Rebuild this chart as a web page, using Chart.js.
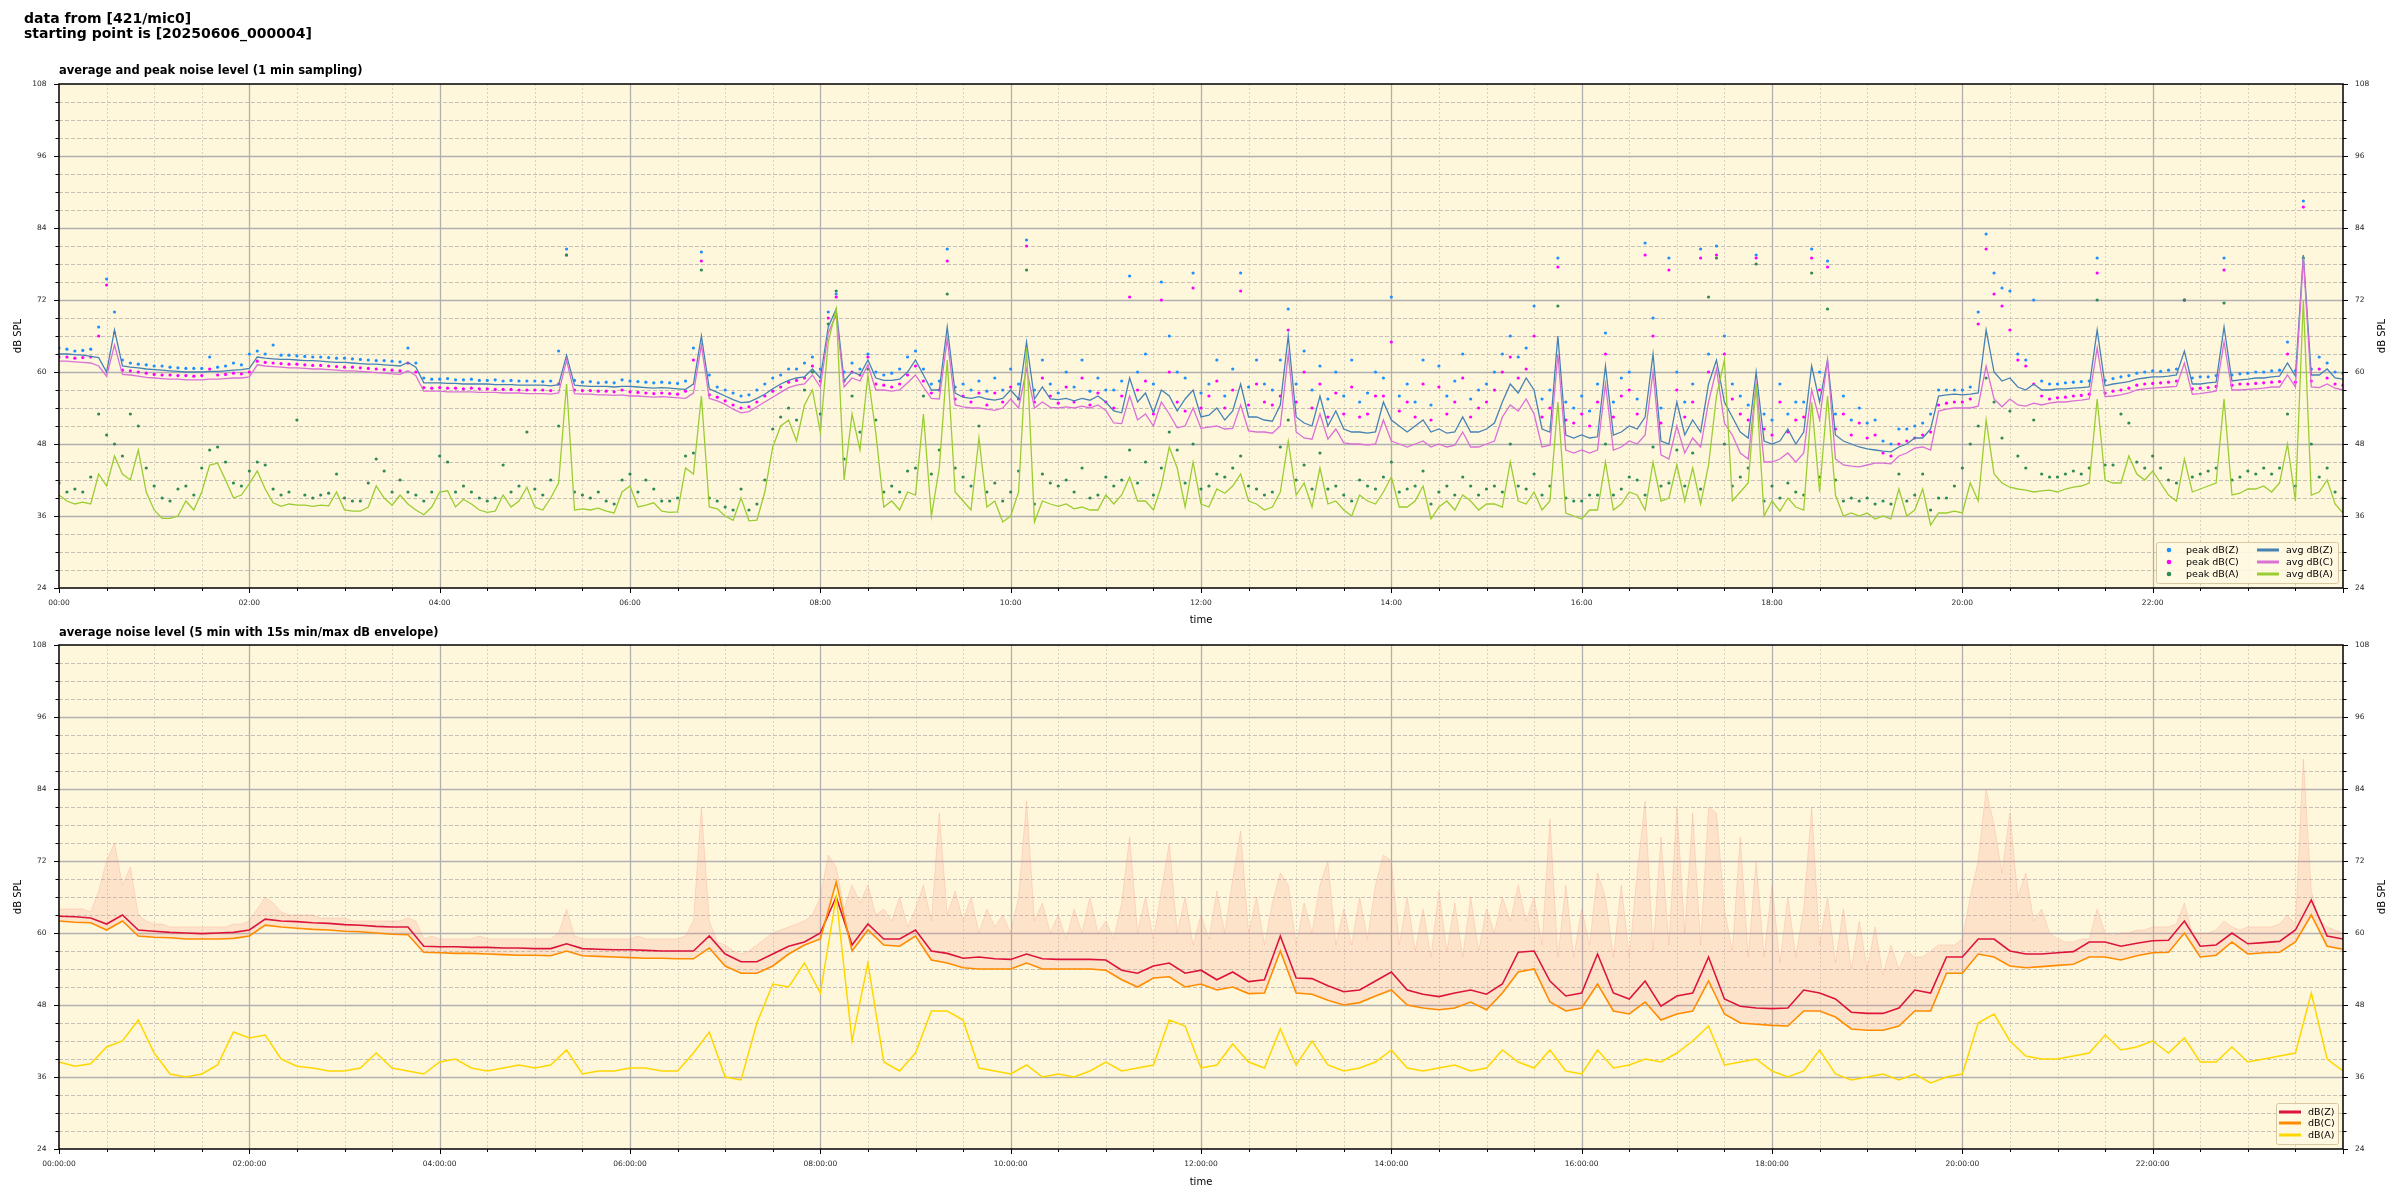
<!DOCTYPE html>
<html>
<head>
<meta charset="utf-8">
<script src="https://cdn.jsdelivr.net/npm/chart.js@4.4.0/dist/chart.umd.min.js"></script>
<style>
  body { margin: 0; background: #fff; width: 2400px; height: 1200px; position: relative; overflow: hidden; font-family: "DejaVu Sans", sans-serif; }
  canvas { position: absolute; left: 0; }
  .t { position: absolute; font-weight: bold; color: #000; white-space: nowrap; z-index: 2; }
</style>
</head>
<body>
<canvas id="c1" width="2400" height="632" style="top:0"></canvas>
<canvas id="c2" width="2400" height="600" style="top:600px"></canvas>
<div class="t" style="left:24px;top:11px;font-size:14px;line-height:15px">data from [421/mic0]<br>starting point is [20250606_000004]</div>
<div class="t" style="left:59px;top:63px;font-size:11.5px;line-height:14px">average and peak noise level (1 min sampling)</div>
<div class="t" style="left:59px;top:625px;font-size:11.5px;line-height:14px">average noise level (5 min with 15s min/max dB envelope)</div>
<script>
// === top panel: one value every 5 minutes, 00:00 .. 24:00 ===
const STEP = 5;
const avgZ = [
  63.0, 63.0, 62.9, 62.8, 62.6, 62.4, 60.0, 67.0, 61.0, 60.8, 60.7, 60.5,
  60.4, 60.3, 60.2, 60.1, 60.0, 60.0, 60.0, 60.1, 60.1, 60.2, 60.3, 60.4,
  60.6, 62.5, 62.3, 62.2, 62.1, 62.1, 62.0, 61.9, 61.9, 61.8, 61.7, 61.6,
  61.6, 61.5, 61.4, 61.3, 61.3, 61.2, 61.1, 61.0, 61.6, 60.8, 58.2, 58.2,
  58.2, 58.1, 58.1, 58.0, 58.0, 58.0, 58.0, 57.9, 57.9, 57.9, 57.8, 57.8,
  57.8, 57.8, 57.7, 57.9, 62.8, 57.8, 57.7, 57.6, 57.6, 57.6, 57.5, 57.6,
  57.6, 57.5, 57.4, 57.3, 57.4, 57.3, 57.2, 57.1, 58.0, 66.0, 57.2, 56.6,
  56.0, 55.4, 54.9, 55.0, 55.6, 56.3, 57.2, 58.0, 58.6, 59.0, 59.2, 60.5,
  59.0, 67.5, 70.5, 58.5, 60.0, 59.5, 62.0, 59.0, 58.6, 58.6, 58.8, 60.0,
  62.0, 59.5, 57.0, 57.0, 67.5, 56.5, 55.8, 55.6, 55.9, 55.5, 55.3, 55.6,
  57.0, 55.5, 65.0, 55.5, 57.5, 55.5, 55.4, 55.6, 55.2, 55.6, 55.3, 56.0,
  55.0, 53.5, 53.2, 59.0, 55.0, 56.5, 53.2, 57.0, 56.0, 53.5, 55.5, 57.0,
  52.5, 52.8, 54.0, 52.0, 53.5, 58.0, 52.5, 52.5, 52.0, 51.8, 54.5, 66.0,
  52.5, 51.5, 51.0, 56.0, 51.0, 53.5, 50.5, 50.0, 50.0, 49.8, 50.0, 55.0,
  52.0, 51.0, 50.0, 51.0, 52.0, 50.0, 50.5, 49.8, 50.0, 52.5, 50.0, 50.0,
  50.5, 51.5, 55.0, 58.0, 56.5, 59.0, 57.0, 50.5, 50.0, 66.0, 49.5, 49.0,
  49.5, 49.0, 49.2, 61.0, 49.5, 50.0, 51.0, 50.5, 52.5, 63.0, 48.5, 48.0,
  55.0, 49.5, 52.0, 50.0, 58.0, 62.0, 55.0, 52.5, 50.0, 49.0, 60.0, 48.5,
  48.0, 48.5, 50.5, 48.0, 50.0, 61.0, 55.0, 62.0, 49.5, 48.5, 48.0, 47.5,
  47.2, 47.0, 46.8, 46.7, 47.5, 48.0, 49.0, 49.0, 50.5, 56.0, 56.2, 56.3,
  56.2, 56.3, 56.5, 67.0, 60.0, 58.5, 59.0, 57.5, 57.0, 58.0, 57.0, 57.0,
  57.2, 57.2, 57.3, 57.4, 57.5, 67.0, 57.7, 58.0, 58.2, 58.4, 58.8, 59.0,
  59.2, 59.2, 59.3, 59.5, 63.5, 58.0, 58.0, 58.2, 58.3, 67.5, 58.5, 58.7,
  58.8, 59.0, 59.0, 59.2, 59.3, 61.5, 59.3, 79.5, 59.5, 59.5, 60.5, 59.0,
  58.8
];
const avgC = [
  61.8, 61.8, 61.7, 61.6, 61.5, 61.0, 59.3, 64.5, 59.6, 59.5, 59.3, 59.1,
  59.0, 58.9, 58.8, 58.8, 58.7, 58.7, 58.7, 58.8, 58.8, 58.9, 59.0, 59.0,
  59.2, 61.2, 61.0, 60.9, 60.8, 60.7, 60.7, 60.6, 60.5, 60.5, 60.4, 60.3,
  60.2, 60.2, 60.1, 60.0, 59.9, 59.8, 59.7, 59.6, 60.2, 59.4, 56.8, 56.8,
  56.8, 56.7, 56.7, 56.7, 56.7, 56.6, 56.6, 56.6, 56.5, 56.5, 56.5, 56.4,
  56.4, 56.4, 56.3, 56.5, 62.0, 56.4, 56.3, 56.3, 56.2, 56.2, 56.1, 56.2,
  56.0, 56.0, 55.9, 55.8, 55.9, 55.8, 55.7, 55.6, 56.5, 64.5, 55.6, 55.2,
  54.6, 53.8, 53.2, 53.4, 54.2, 55.0, 55.8, 56.6, 57.4, 57.8, 58.0, 59.5,
  57.5, 66.5, 69.5, 57.5, 59.0, 58.5, 61.2, 57.0, 57.0, 56.8, 57.0, 58.2,
  59.5, 57.5, 55.6, 55.5, 65.5, 54.5, 54.2, 54.0, 54.0, 53.8, 53.6, 54.0,
  55.5, 54.0, 60.5, 54.0, 55.0, 54.1, 54.0, 54.2, 54.0, 54.3, 54.0, 54.5,
  53.6, 51.5, 51.4, 56.0, 52.0, 53.0, 51.0, 55.0, 53.0, 50.7, 51.0, 54.0,
  50.6, 50.8, 51.0, 50.5, 50.6, 54.5, 50.2, 50.0, 50.0, 49.8, 51.0, 63.0,
  50.0, 49.0, 48.8, 53.0, 48.8, 50.5, 48.2, 48.0, 48.0, 47.8, 48.0, 52.0,
  48.5, 48.0, 47.5, 48.0, 48.5, 47.5, 48.0, 47.5, 47.8, 50.0, 47.5, 47.5,
  48.0, 48.5, 52.5, 54.5, 53.5, 55.5, 53.0, 47.5, 47.8, 63.0, 47.0, 46.5,
  47.0, 46.5, 47.0, 58.0, 47.0, 47.5, 48.5, 48.0, 49.5, 60.0, 46.2, 45.5,
  51.0, 46.5, 49.0, 47.5, 55.0, 60.5, 51.5, 49.5, 46.5, 45.5, 58.0, 45.0,
  45.0, 45.5, 46.5, 45.0, 46.5, 57.0, 52.0, 62.0, 45.5, 44.5, 44.3, 44.2,
  44.5, 44.8, 44.8, 44.7, 46.0, 46.5, 47.3, 47.5, 47.0, 53.5, 53.8, 54.0,
  54.0, 54.0, 54.3, 61.0, 55.5, 54.2, 55.5, 54.5, 54.3, 54.8, 54.5, 54.8,
  55.0, 55.0, 55.2, 55.3, 55.5, 64.0, 55.9, 56.0, 56.2, 56.5, 57.0, 57.2,
  57.3, 57.4, 57.5, 57.6, 61.5, 56.3, 56.4, 56.6, 56.8, 65.0, 57.0, 57.0,
  57.1, 57.2, 57.3, 57.5, 57.5, 59.5, 57.5, 79.0, 57.5, 57.4, 58.0, 57.3,
  57.0
];
const avgA = [
  39.5, 38.5, 38.0, 38.3, 38.0, 43.0, 41.0, 46.0, 43.0, 42.0, 47.0, 40.0,
  37.0, 35.6, 35.6, 36.0, 38.5, 37.0, 40.0, 44.5, 44.8, 42.0, 39.0, 39.5,
  41.4, 43.5, 40.5, 38.2, 37.6, 38.0, 37.8, 37.8, 37.6, 37.8, 37.7, 40.0,
  37.0, 36.8, 36.8, 37.5, 41.0, 39.0, 37.8, 39.5, 38.0, 37.0, 36.2, 37.5,
  40.0, 40.2, 37.5, 38.8, 38.0, 37.0, 36.6, 36.8, 39.5, 37.5, 38.5, 40.8,
  37.5, 37.0, 39.0, 41.5, 58.0, 37.0, 37.2, 37.0, 37.3, 36.8, 36.5, 40.0,
  41.0, 37.5, 37.8, 38.2, 36.8, 36.6, 36.7, 44.0, 43.0, 56.0, 37.5, 37.2,
  36.0, 35.3, 39.0, 35.2, 35.3, 40.0, 47.5, 51.0, 52.0, 48.5, 54.5, 57.0,
  50.0, 65.0, 70.5, 42.0, 53.0, 47.0, 59.5, 49.8, 37.5, 38.5, 37.0, 40.0,
  39.5, 53.0, 36.0, 44.0, 62.0, 40.0, 38.5, 37.0, 49.0, 37.5, 38.5, 35.0,
  36.0, 40.0, 64.0, 35.0, 38.5, 38.0, 37.6, 38.0, 37.2, 37.5, 37.0, 37.0,
  39.5, 38.0, 39.5, 42.5, 38.5, 38.5, 37.0, 41.0, 47.5, 44.0, 37.5, 45.0,
  38.0, 37.5, 40.5, 39.8, 41.0, 43.0, 38.5, 38.0, 37.0, 37.5, 40.0, 48.5,
  39.5, 41.5, 37.5, 44.0, 38.0, 38.5, 37.0, 36.0, 39.5, 38.5, 38.0, 40.0,
  42.5, 37.5, 37.5, 38.5, 41.0, 35.5, 37.5, 38.5, 37.0, 39.5, 38.5, 37.0,
  38.0, 38.0, 37.5, 45.0, 38.5, 38.0, 40.0, 37.0, 38.5, 55.0, 36.5, 36.0,
  35.5, 37.0, 37.0, 45.0, 37.0, 38.0, 40.0, 39.5, 37.0, 45.0, 38.5, 39.0,
  44.5, 38.5, 44.0, 38.0, 44.5, 56.0, 62.0, 38.5, 40.0, 41.5, 58.0, 36.0,
  38.5, 36.8, 39.0, 37.5, 37.0, 55.0, 40.0, 56.0, 39.5, 36.0, 36.5, 36.0,
  36.5, 35.5, 36.0, 35.5, 40.5, 36.0, 37.0, 40.5, 34.5, 36.5, 36.5, 36.8,
  36.5, 41.5, 38.5, 52.0, 43.0, 41.5, 40.8, 40.5, 40.3, 40.0, 40.2, 40.3,
  40.0, 40.5, 40.8, 41.0, 41.5, 55.5, 42.0, 41.5, 41.5, 46.0, 43.0, 42.0,
  43.5, 41.5, 39.5, 38.5, 45.5, 40.0, 40.5, 41.0, 41.5, 55.5, 39.5, 39.8,
  40.5, 40.5, 41.0, 40.0, 41.5, 48.0, 38.5, 72.0, 39.5, 40.0, 42.0, 38.0,
  36.5
];
const peakZ = [
  64.0, 63.8, 63.5, 63.6, 63.8, 67.5, 75.5, 70.0, 62.0, 61.5, 61.3, 61.2,
  61.0, 61.0, 60.8, 60.7, 60.6, 60.6, 60.6, 62.5, 60.8, 61.0, 61.5, 61.2,
  63.0, 63.5, 63.0, 64.5, 62.8, 62.8, 62.7, 62.6, 62.5, 62.5, 62.4, 62.3,
  62.3, 62.2, 62.1, 62.0, 61.9, 61.9, 61.8, 61.7, 64.0, 61.5, 59.0, 58.8,
  58.8, 58.9, 58.7, 58.7, 58.8, 58.6, 58.6, 58.7, 58.5, 58.6, 58.5, 58.5,
  58.5, 58.4, 58.5, 63.5, 80.5, 58.6, 58.3, 58.4, 58.2, 58.3, 58.2, 58.7,
  58.5, 58.4, 58.3, 58.2, 58.3, 58.2, 58.1, 58.5, 64.0, 80.0, 59.5, 57.5,
  57.0, 56.5, 56.0, 56.2, 57.0, 58.0, 59.0, 59.5, 60.5, 60.5, 61.5, 62.5,
  60.5, 70.0, 73.0, 60.0, 61.5, 60.5, 63.0, 60.0, 59.5, 59.8, 60.5, 62.5,
  63.5, 60.5, 58.0, 58.5, 80.5, 57.5, 58.0, 57.0, 58.5, 56.8, 59.0, 57.0,
  60.5, 58.0, 82.0, 57.0, 62.0, 58.0, 56.5, 60.0, 57.5, 62.0, 56.8, 59.0,
  57.0, 57.0, 58.5, 76.0, 60.0, 63.0, 58.0, 75.0, 66.0, 60.0, 59.0, 76.5,
  56.5, 58.0, 62.0, 56.0, 60.5, 76.5, 57.5, 62.0, 58.0, 57.0, 62.0, 70.5,
  58.0, 63.5, 57.0, 61.0, 55.5, 60.0, 56.0, 62.0, 55.0, 56.5, 60.0, 59.0,
  72.5, 56.0, 58.0, 55.0, 62.0, 54.5, 61.0, 56.0, 58.5, 63.0, 55.5, 57.0,
  58.0, 60.0, 63.0, 66.0, 62.5, 64.0, 71.0, 55.5, 57.0, 79.0, 55.0, 54.0,
  56.0, 53.5, 58.0, 66.5, 55.0, 59.0, 60.0, 55.5, 81.5, 69.0, 54.0, 79.0,
  60.0, 55.0, 58.0, 80.5, 63.0, 81.0, 66.0, 58.0, 56.0, 54.5, 79.5, 53.0,
  52.0, 58.0, 53.0, 55.0, 55.0, 80.5, 60.0, 78.5, 53.0, 56.0, 52.0, 54.0,
  51.5, 52.0, 48.5, 48.0, 50.5, 50.5, 51.0, 51.5, 53.0, 57.0, 57.0, 57.0,
  57.0, 57.5, 70.0, 83.0, 76.5, 74.0, 73.5, 63.0, 62.0, 72.0, 58.5, 58.0,
  58.0, 58.2, 58.3, 58.4, 58.5, 79.0, 58.6, 58.9, 59.2, 59.4, 59.8, 60.0,
  60.2, 60.1, 60.3, 60.5, 72.0, 59.0, 59.2, 59.2, 59.4, 79.0, 59.5, 59.7,
  59.8, 60.0, 60.0, 60.2, 60.3, 65.0, 60.2, 88.5, 60.5, 62.5, 61.5, 60.0,
  59.8
];
const peakC = [
  62.5, 62.5, 62.3, 62.4, 62.5, 66.0, 74.5, 66.5, 60.3, 60.2, 60.0, 59.8,
  59.6, 59.5, 59.5, 59.4, 59.4, 59.3, 59.4, 60.5, 59.5, 59.6, 59.8, 59.7,
  60.0, 61.8, 61.6, 61.5, 61.4, 61.3, 61.3, 61.2, 61.1, 61.1, 61.0, 60.9,
  60.8, 60.8, 60.7, 60.6, 60.5, 60.4, 60.3, 60.2, 61.5, 60.0, 57.4, 57.3,
  57.4, 57.3, 57.3, 57.2, 57.3, 57.2, 57.2, 57.1, 57.1, 57.1, 57.0, 57.0,
  57.0, 57.0, 56.9, 58.0, 79.5, 57.0, 56.9, 56.9, 56.8, 56.8, 56.7, 57.0,
  56.7, 56.6, 56.5, 56.4, 56.5, 56.4, 56.3, 56.8, 62.0, 78.5, 56.2, 55.8,
  55.2, 54.5, 54.0, 54.2, 55.0, 56.0, 56.8, 57.5, 58.3, 58.6, 59.0, 61.0,
  58.5, 69.0, 72.5, 58.5, 60.0, 59.5, 62.5, 58.0, 57.8, 57.5, 58.0, 59.5,
  61.0, 58.5, 56.5, 57.0, 78.5, 55.5, 56.0, 55.0, 56.5, 54.5, 56.5, 55.0,
  57.5, 55.5, 81.0, 55.0, 59.0, 56.0, 54.8, 57.5, 55.0, 59.0, 54.5, 56.5,
  55.0, 54.0, 56.0, 72.5, 57.0, 58.5, 53.0, 72.0, 60.0, 55.0, 53.5, 74.0,
  54.0, 56.0, 58.5, 54.0, 57.0, 73.5, 54.5, 58.0, 55.0, 54.5, 56.0, 67.0,
  55.0, 60.0, 54.0, 58.0, 52.5, 56.5, 53.0, 57.5, 52.5, 53.0, 56.0, 56.0,
  65.0, 53.5, 55.0, 52.5, 58.0, 52.0, 57.5, 53.0, 55.0, 59.0, 52.5, 54.0,
  55.0, 57.0, 60.0, 62.5, 59.0, 60.5, 66.0, 52.5, 54.0, 77.5, 52.0, 51.5,
  53.0, 51.0, 55.0, 63.0, 52.5, 56.0, 57.0, 53.0, 79.5, 66.0, 51.5, 77.0,
  57.0, 52.5, 55.0, 79.0, 60.0, 79.5, 63.0, 55.5, 53.0, 52.0, 79.0, 50.5,
  49.5, 55.0, 50.0, 52.0, 52.5, 79.0, 57.0, 77.5, 50.5, 53.0, 49.5, 51.5,
  49.0, 49.5, 46.5, 46.0, 48.0, 48.5, 49.0, 49.5, 50.0, 54.5, 54.8, 55.0,
  55.0, 55.5, 68.0, 80.5, 73.0, 71.0, 67.0, 62.0, 61.0, 58.0, 56.0, 55.5,
  55.7, 55.8, 56.0, 56.1, 56.3, 76.5, 56.5, 56.8, 57.0, 57.3, 57.8, 58.0,
  58.1, 58.2, 58.3, 58.5, 72.0, 57.2, 57.3, 57.4, 57.6, 77.0, 57.8, 58.0,
  58.0, 58.1, 58.2, 58.3, 58.4, 63.0, 58.3, 87.5, 58.5, 60.5, 59.0, 58.0,
  57.8
];
const peakA = [
  41.5, 40.0, 40.5, 40.0, 42.5, 53.0, 49.5, 48.0, 46.0, 53.0, 51.0, 44.0,
  41.0, 39.0, 38.5, 40.5, 41.0, 39.5, 44.0, 47.0, 47.5, 45.0, 41.5, 41.0,
  43.5, 45.0, 44.5, 40.5, 39.5, 40.0, 52.0, 39.5, 39.0, 39.5, 39.8, 43.0,
  39.0, 38.5, 38.5, 41.5, 45.5, 43.5, 40.0, 42.0, 40.0, 39.5, 38.5, 40.0,
  46.0, 45.0, 40.0, 41.0, 40.0, 39.0, 38.5, 39.0, 44.5, 40.0, 41.0, 50.0,
  40.5, 39.5, 42.0, 51.0, 79.5, 40.0, 39.5, 39.0, 40.0, 38.5, 38.0, 42.0,
  43.0, 40.0, 42.0, 40.5, 38.5, 38.5, 39.0, 46.0, 46.5, 77.0, 39.0, 38.5,
  37.5, 37.0, 40.5, 37.0, 38.0, 42.0, 50.5, 52.5, 54.0, 52.0, 57.0, 60.0,
  53.0, 68.0, 73.5, 45.5, 56.0, 50.0, 60.5, 52.0, 40.0, 41.0, 40.0, 43.5,
  44.0, 56.0, 43.0, 47.0, 73.0, 44.0, 42.5, 41.0, 51.0, 40.0, 41.5, 38.5,
  40.0, 43.5, 77.0, 38.0, 43.0, 41.5, 41.0, 42.0, 40.0, 44.0, 39.0, 39.5,
  42.5, 41.0, 42.0, 47.0, 41.5, 45.0, 39.5, 44.0, 50.0, 47.0, 41.5, 48.0,
  40.5, 41.0, 43.0, 42.5, 44.0, 46.0, 41.0, 40.5, 39.5, 40.0, 47.5, 52.0,
  42.0, 44.5, 40.5, 46.5, 40.5, 41.0, 39.5, 38.5, 42.0, 41.0, 40.5, 42.5,
  45.0, 40.0, 40.5, 41.0, 43.5, 38.0, 40.0, 41.0, 39.5, 42.5, 41.0, 39.5,
  40.5, 41.0, 40.0, 48.0, 41.0, 40.5, 43.0, 39.5, 41.0, 71.0, 39.0, 38.5,
  38.5, 39.5, 39.5, 48.0, 39.5, 40.5, 42.5, 42.0, 39.5, 47.5, 41.0, 41.5,
  47.0, 41.0, 46.5, 40.5, 72.5, 79.0, 48.0, 41.0, 42.5, 44.0, 78.0, 38.5,
  41.0, 39.0, 41.5, 40.0, 39.5, 76.5, 42.5, 70.5, 42.0, 38.5, 39.0, 38.5,
  39.0, 38.0, 38.5, 38.0, 43.0, 38.5, 39.5, 43.0, 37.0, 39.0, 39.0, 41.0,
  44.0, 48.0, 51.0, 59.0, 55.0, 49.0, 53.5, 46.0, 44.0, 52.0, 43.0, 42.5,
  42.5, 43.0, 43.5, 43.0, 44.0, 72.0, 44.5, 44.5, 53.0, 51.5, 45.0, 44.0,
  46.0, 44.0, 42.0, 41.5, 72.0, 42.5, 43.0, 43.5, 44.0, 71.5, 42.0, 42.5,
  43.5, 43.0, 44.0, 43.0, 44.0, 53.0, 41.0, 79.0, 48.0, 42.5, 44.0, 40.0,
  39.0
];

// === bottom panel: 5 min averages, one value every 10 minutes ===
const STEP_B = 10;
const bZ = [
  62.8, 62.7, 62.5, 61.5, 63.0, 60.5, 60.3, 60.1, 60.0, 59.9, 60.0, 60.1,
  60.5, 62.3, 62.0, 61.9, 61.7, 61.6, 61.4, 61.3, 61.1, 61.0, 61.0, 57.8,
  57.7, 57.7, 57.6, 57.6, 57.5, 57.5, 57.4, 57.4, 58.2, 57.4, 57.3, 57.2,
  57.2, 57.1, 57.0, 57.0, 57.0, 59.5, 56.5, 55.2, 55.2, 56.5, 57.8, 58.5,
  60.0, 66.0, 58.0, 61.5, 59.0, 59.0, 60.5, 57.0, 56.6, 55.8, 56.0, 55.7,
  55.6, 56.5, 55.7, 55.6, 55.6, 55.6, 55.5, 53.8, 53.3, 54.5, 55.0, 53.3,
  53.8, 52.2, 53.5, 51.9, 52.2, 59.5, 52.5, 52.4, 51.2, 50.2, 50.5, 52.0,
  53.5, 50.5, 49.8, 49.4, 50.0, 50.5, 49.8, 51.5, 56.8, 57.0, 52.0, 49.5,
  50.0, 56.5, 50.0, 49.0, 52.0, 47.8, 49.5, 50.0, 56.0, 49.0, 47.8, 47.5,
  47.4, 47.5, 50.5, 50.0, 49.0, 46.8, 46.6, 46.6, 47.5, 50.5, 50.0, 56.0,
  56.0, 59.0, 59.0, 57.0, 56.5, 56.5, 56.7, 56.9, 58.5, 58.5, 57.8, 58.3,
  58.7, 58.8, 62.0, 57.8, 58.0, 60.0, 58.2, 58.4, 58.6, 60.5, 65.5, 59.5,
  59.0
];
const bC = [
  62.0, 61.8, 61.7, 60.5, 62.0, 59.5, 59.3, 59.2, 59.0, 59.0, 59.0, 59.1,
  59.5, 61.3, 61.0, 60.8, 60.6, 60.5, 60.3, 60.2, 60.0, 59.8, 59.7, 56.8,
  56.7, 56.6, 56.6, 56.5, 56.4, 56.3, 56.3, 56.2, 57.0, 56.2, 56.1, 56.0,
  55.9, 55.8, 55.8, 55.7, 55.7, 57.5, 54.5, 53.3, 53.3, 54.5, 56.5, 58.0,
  59.0, 68.5, 57.0, 60.5, 58.0, 57.8, 59.5, 55.5, 55.0, 54.2, 54.0, 54.0,
  54.0, 55.0, 54.0, 54.0, 54.0, 54.0, 53.8, 52.2, 51.0, 52.5, 52.7, 51.0,
  51.5, 50.5, 51.0, 49.9, 50.0, 57.0, 50.0, 49.8, 48.8, 48.0, 48.4, 49.5,
  50.5, 48.0, 47.5, 47.2, 47.5, 48.5, 47.2, 50.0, 53.5, 54.0, 48.5, 47.0,
  47.5, 51.5, 47.0, 46.5, 48.5, 45.5, 46.5, 47.0, 52.0, 46.5, 45.0, 44.8,
  44.6, 44.5, 47.0, 47.0, 46.0, 44.0, 43.8, 43.8, 44.5, 47.0, 47.0, 53.3,
  53.3, 56.5, 56.0, 54.5, 54.2, 54.4, 54.6, 54.8, 56.0, 56.0, 55.5, 56.2,
  56.7, 56.8, 60.0, 56.0, 56.3, 58.5, 56.5, 56.7, 56.8, 58.5, 63.0, 57.8,
  57.3
];
const bA = [
  38.5, 37.8, 38.2, 41.0, 42.0, 45.5, 40.0, 36.5, 36.0, 36.5, 38.0, 43.5,
  42.5, 43.0, 39.0, 37.8, 37.5, 37.0, 37.0, 37.5, 40.0, 37.5, 37.0, 36.5,
  38.5, 39.0, 37.5, 37.0, 37.5, 38.0, 37.5, 38.0, 40.5, 36.5, 37.0, 37.0,
  37.5, 37.5, 37.0, 37.0, 40.0, 43.5, 36.0, 35.5, 45.0, 51.5, 51.0, 55.0,
  50.0, 66.0, 42.0, 55.0, 38.5, 37.0, 40.0, 47.0, 47.0, 45.5, 37.5, 37.0,
  36.5, 38.0, 36.0, 36.5, 36.0, 37.0, 38.5, 37.0, 37.5, 38.0, 45.5, 44.5,
  37.5, 38.0, 41.5, 38.5, 37.5, 44.0, 38.0, 42.0, 38.0, 37.0, 37.5, 38.5,
  40.5, 37.5, 37.0, 37.5, 38.0, 37.0, 37.5, 40.5, 38.5, 37.5, 40.5, 37.0,
  36.5, 40.5, 37.5, 38.0, 39.0, 38.5, 40.0, 42.0, 44.5, 38.0, 38.5, 39.0,
  37.0, 36.0, 37.0, 40.5, 36.5, 35.5, 36.0, 36.5, 35.5, 36.5, 35.0, 36.0,
  36.5, 45.0, 46.5, 42.0, 39.5, 39.0, 39.0, 39.5, 40.0, 43.0, 40.5, 41.0,
  42.0, 40.0, 42.5, 38.5, 38.5, 41.0, 38.5, 39.0, 39.5, 40.0, 50.0, 39.0,
  37.0
];
// 15 s maximum envelope, one value every 5 minutes
const envMax = [
  64, 64, 64, 64, 63.5, 67, 72, 75, 68, 71, 63, 62,
  61.5, 61.5, 61, 61, 61, 61, 61, 61, 61, 61, 61.5, 61.5,
  62, 64, 66, 65, 63.5, 63, 63, 63, 63, 62.5, 62.5, 62.5,
  62.5, 62, 62, 62, 62, 62, 62, 62, 62.5, 62, 59, 59.5,
  59, 59, 59, 59, 59, 59.5, 59, 59, 59, 59, 59, 59,
  59, 59, 59, 60, 64, 59.5, 59, 59, 59, 59, 59, 59,
  59, 59.5, 59, 59, 59, 59, 59, 59.5, 62, 81, 62, 58.5,
  58, 57, 56.5, 57, 58, 59, 60, 60.5, 61, 61.5, 62, 63,
  66, 73, 71, 64, 68, 65, 68, 63, 64, 62, 66, 61,
  64, 68, 62, 80, 63, 67, 62, 66, 60, 64, 61, 63,
  60, 66, 82, 62, 65, 60, 63, 59, 64, 60, 66, 60,
  62, 59, 65, 76, 60, 66, 59, 67, 75, 60, 66, 58,
  63, 59, 67, 60, 69, 77, 60, 66, 58, 65, 70, 68,
  58, 65, 60, 68, 72, 58, 64, 58, 66, 59, 68, 73,
  72, 58, 66, 57, 64, 56, 67, 57, 65, 56, 66, 57,
  64, 60, 66, 62, 68, 62, 66, 58, 79, 56, 68, 56,
  64, 58, 70, 66, 56, 68, 56, 70, 82, 57, 76, 58,
  81, 60, 80, 58, 81, 80, 64, 57, 76, 56, 72, 56,
  68, 55, 66, 56, 64, 81, 58, 66, 55, 64, 54, 62,
  54, 61, 53, 58, 54, 57, 56, 56, 57, 58, 58, 58,
  59, 66, 72, 84, 78, 70, 80, 66, 70, 62, 64, 60,
  59, 58.5, 58.5, 59, 59, 64, 60, 59.5, 60, 60, 60.5, 60.5,
  61, 61, 61, 61.5, 65, 60, 60, 60, 60.5, 62, 61, 60.5,
  61, 61, 61, 61, 61.5, 63, 61.5, 89, 67, 62, 61, 60.5,
  60
];

const Y_MIN = 24, Y_MAX = 108;
const T_MAX = 1440;

function pts(arr, step) {
  return arr.map((v, i) => ({ x: i * step, y: v }));
}
const hh = (m) => String(Math.floor(m / 60)).padStart(2, "0") + ":00";

function seg(ctx, x1, y1, x2, y2) {
  ctx.beginPath();
  ctx.moveTo(x1, y1);
  ctx.lineTo(x2, y2);
  ctx.stroke();
}

function drawLegend(ctx, a, lg) {
  const bx = a.right - 5 - lg.w, by = a.bottom - 5 - lg.h;
  ctx.save();
  ctx.fillStyle = "rgba(255,249,226,0.85)";
  ctx.strokeStyle = "#d8c9a2";
  ctx.lineWidth = 1;
  ctx.beginPath();
  ctx.roundRect(bx + 0.5, by + 0.5, lg.w, lg.h, 2);
  ctx.fill();
  ctx.stroke();
  ctx.font = '9.5px "DejaVu Sans"';
  ctx.textBaseline = "middle";
  lg.items.forEach((it) => {
    const yy = by + it.dy;
    if (it.kind === "dot") {
      ctx.fillStyle = it.color;
      ctx.beginPath();
      ctx.arc(bx + it.dx, yy, 2.3, 0, Math.PI * 2);
      ctx.fill();
    } else {
      ctx.strokeStyle = it.color;
      ctx.lineWidth = 3;
      seg(ctx, bx + it.dx, yy, bx + it.dx + 22, yy);
    }
    ctx.fillStyle = "#000";
    ctx.fillText(it.label, bx + it.tx, yy + 0.5);
  });
  ctx.restore();
}

// plot background, grid, ticks, frame, right label and legend
const deco = {
  id: "deco",
  beforeDatasetsDraw(chart) {
    const { ctx, chartArea: a, scales: { x, y } } = chart;
    ctx.save();
    ctx.fillStyle = "#fff7dc";
    ctx.fillRect(a.left, a.top, a.width, a.height);
    ctx.lineWidth = 1;
    ctx.setLineDash([2, 2]);
    ctx.strokeStyle = "#d9d3c1";
    for (let m = 30; m < T_MAX; m += 30) {
      if (m % 120 === 0) continue;
      const px = Math.round(x.getPixelForValue(m)) + 0.5;
      seg(ctx, px, a.top, px, a.bottom);
    }
    ctx.setLineDash([4, 2]);
    ctx.strokeStyle = "#c5c1b6";
    for (let v = Y_MIN + 3; v < Y_MAX; v += 3) {
      if (v % 12 === 0) continue;
      const py = Math.round(y.getPixelForValue(v)) + 0.5;
      seg(ctx, a.left, py, a.right, py);
    }
    ctx.setLineDash([]);
    ctx.strokeStyle = "#b0b0b0";
    ctx.lineWidth = 1.3;
    for (let m = 120; m < T_MAX; m += 120) {
      const px = Math.round(x.getPixelForValue(m)) + 0.5;
      seg(ctx, px, a.top, px, a.bottom);
    }
    for (let v = 36; v < Y_MAX; v += 12) {
      const py = Math.round(y.getPixelForValue(v)) + 0.5;
      seg(ctx, a.left, py, a.right, py);
    }
    ctx.restore();
  },
  afterDatasetsDraw(chart, args, opts) {
    const { ctx, chartArea: a, scales: { x, y } } = chart;
    ctx.save();
    ctx.strokeStyle = "#000";
    ctx.lineWidth = 1;
    for (let m = 0; m <= T_MAX; m += 30) {
      const px = Math.round(x.getPixelForValue(m)) + 0.5;
      seg(ctx, px, a.bottom, px, a.bottom + (m % 120 === 0 ? 5 : 3));
    }
    for (let v = Y_MIN; v <= Y_MAX; v += 3) {
      const py = Math.round(y.getPixelForValue(v)) + 0.5;
      const len = v % 12 === 0 ? 5 : 3.5;
      seg(ctx, a.left - len, py, a.left, py);
      seg(ctx, a.right, py, a.right + len, py);
    }
    ctx.lineWidth = 1.5;
    ctx.strokeRect(a.left, a.top, a.width, a.height);
    ctx.fillStyle = "#000";
    ctx.font = '10px "DejaVu Sans"';
    ctx.textAlign = "center";
    ctx.textBaseline = "middle";
    ctx.translate(2382, (a.top + a.bottom) / 2);
    ctx.rotate(-Math.PI / 2);
    ctx.fillText("dB SPL", 0, 0);
    ctx.restore();
    drawLegend(ctx, a, opts.legend);
  }
};

function makeScales(xHeight, titlePad, fmt) {
  const tickFont = { family: "DejaVu Sans", size: 7.5 };
  const yTicks = (pad) => ({
    stepSize: 3, autoSkip: false, maxTicksLimit: 100, padding: pad,
    font: tickFont, color: "#262626",
    callback: (v) => (v % 12 === 0 ? String(v) : "")
  });
  return {
    x: {
      type: "linear", min: 0, max: T_MAX,
      grid: { display: false, drawTicks: false }, border: { display: false },
      ticks: {
        stepSize: 30, autoSkip: false, maxTicksLimit: 100, maxRotation: 0, minRotation: 0,
        padding: 11, font: tickFont, color: "#262626",
        callback: (v) => (v % 120 === 0 && v < T_MAX ? fmt(v) : "")
      },
      title: { display: true, text: "time", color: "#000", font: { family: "DejaVu Sans", size: 10 }, padding: { top: 0, bottom: titlePad } },
      afterFit: (s) => { s.height = xHeight; }
    },
    y: {
      type: "linear", position: "left", min: Y_MIN, max: Y_MAX,
      grid: { display: false, drawTicks: false }, border: { display: false },
      ticks: yTicks(12.5),
      title: { display: true, text: "dB SPL", color: "#000", font: { family: "DejaVu Sans", size: 10 }, padding: { top: 12, bottom: 0 } },
      afterFit: (s) => { s.width = 59; }
    },
    y2: {
      type: "linear", position: "right", min: Y_MIN, max: Y_MAX,
      grid: { display: false, drawTicks: false }, border: { display: false },
      ticks: yTicks(12),
      afterFit: (s) => { s.width = 57; }
    }
  };
}

const common = {
  responsive: false,
  animation: false,
  devicePixelRatio: 1,
  elements: { point: { radius: 0 }, line: { tension: 0 } },
  events: []
};

// === Top chart ===
new Chart(document.getElementById("c1"), {
  type: "line",
  data: {
    datasets: [
      { label: "avg dB(A)", data: pts(avgA, STEP), borderColor: "#9acd32", borderWidth: 1.3, order: 1 },
      { label: "avg dB(C)", data: pts(avgC, STEP), borderColor: "#da70d6", borderWidth: 1.3, order: 2 },
      { label: "avg dB(Z)", data: pts(avgZ, STEP), borderColor: "#4682b4", borderWidth: 1.3, order: 3 },
      { label: "peak dB(A)", data: pts(peakA, STEP), showLine: false, pointRadius: 1.6, pointBorderWidth: 0, pointBackgroundColor: "#2e8b57", order: 4 },
      { label: "peak dB(C)", data: pts(peakC, STEP), showLine: false, pointRadius: 1.6, pointBorderWidth: 0, pointBackgroundColor: "#ff00ff", order: 5 },
      { label: "peak dB(Z)", data: pts(peakZ, STEP), showLine: false, pointRadius: 1.6, pointBorderWidth: 0, pointBackgroundColor: "#1e90ff", order: 6 }
    ]
  },
  options: {
    ...common,
    layout: { padding: { top: 84, left: 0, right: 0, bottom: 0 } },
    plugins: {
      legend: { display: false },
      tooltip: { enabled: false },
      deco: {
        legend: {
          w: 182, h: 41,
          items: [
            { kind: "dot", color: "#1e90ff", label: "peak dB(Z)", dx: 13, tx: 30, dy: 8 },
            { kind: "dot", color: "#ff00ff", label: "peak dB(C)", dx: 13, tx: 30, dy: 20 },
            { kind: "dot", color: "#2e8b57", label: "peak dB(A)", dx: 13, tx: 30, dy: 32 },
            { kind: "line", color: "#4682b4", label: "avg dB(Z)", dx: 101, tx: 130, dy: 8 },
            { kind: "line", color: "#da70d6", label: "avg dB(C)", dx: 101, tx: 130, dy: 20 },
            { kind: "line", color: "#9acd32", label: "avg dB(A)", dx: 101, tx: 130, dy: 32 }
          ]
        }
      }
    },
    scales: makeScales(44, 6, hh)
  },
  plugins: [deco]
});

// === Bottom chart ===
new Chart(document.getElementById("c2"), {
  type: "line",
  data: {
    datasets: [
      { label: "dB(A)", data: pts(bA, STEP_B), borderColor: "#ffd700", borderWidth: 1.5, order: 1 },
      { label: "dB(C)", data: pts(bC, STEP_B), borderColor: "#ff8c00", borderWidth: 1.6, order: 2 },
      { label: "dB(Z)", data: pts(bZ, STEP_B), borderColor: "#dc143c", borderWidth: 1.6, order: 3 },
      { label: "max", data: pts(envMax, STEP), borderColor: "rgba(245,150,130,0.35)", borderWidth: 0.8,
        backgroundColor: "rgba(245,150,130,0.2)", fill: 1, order: 4 }
    ]
  },
  options: {
    ...common,
    layout: { padding: { top: 45, left: 0, right: 0, bottom: 0 } },
    plugins: {
      legend: { display: false },
      tooltip: { enabled: false },
      deco: {
        legend: {
          w: 62, h: 41,
          items: [
            { kind: "line", color: "#dc143c", label: "dB(Z)", dx: 3, tx: 32, dy: 9 },
            { kind: "line", color: "#ff8c00", label: "dB(C)", dx: 3, tx: 32, dy: 20 },
            { kind: "line", color: "#ffd700", label: "dB(A)", dx: 3, tx: 32, dy: 32 }
          ]
        }
      }
    },
    scales: makeScales(51, 12, (v) => hh(v) + ":00")
  },
  plugins: [deco]
});
</script>
</body>
</html>
